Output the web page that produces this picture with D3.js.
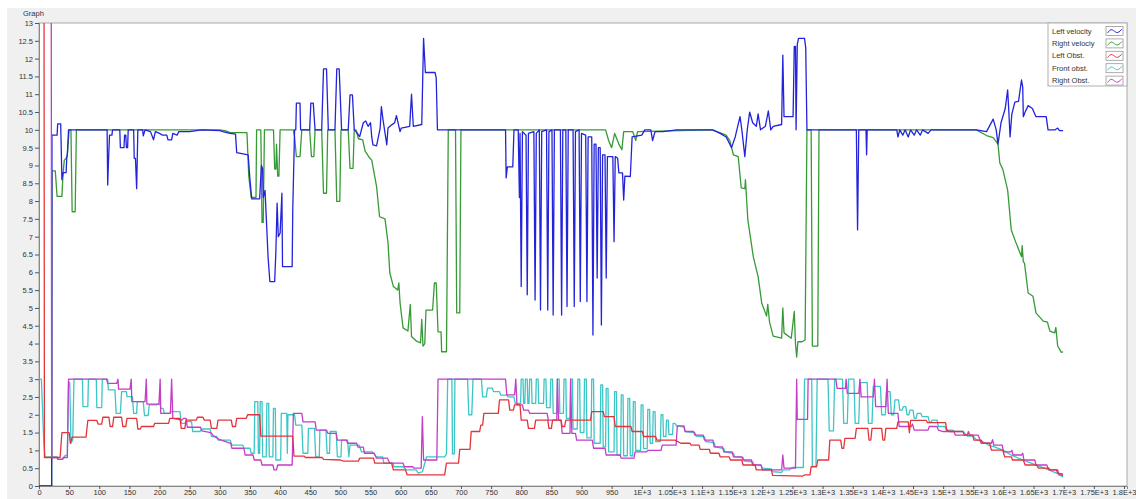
<!DOCTYPE html>
<html><head><meta charset="utf-8">
<script src="https://cdn.jsdelivr.net/npm/d3@7"></script>
<style>
html,body{margin:0;padding:0;background:#fff;}
svg{display:block;font-family:"Liberation Sans",Arial,sans-serif;}
</style></head><body>
<svg id="chart" width="1136" height="499"></svg>
<script>
// ---------------- DATA ----------------
const seriesNames = ["Left velocity","Right velociy","Left Obst.","Front obst.","Right Obst."];

const yTickValues = [0,0.5,1,1.5,2,2.5,3,3.5,4,4.5,5,5.5,6,6.5,7,7.5,8,8.5,9,9.5,10,10.5,11,11.5,12,12.5,13];
const xTickValues = [0,50,100,150,200,250,300,350,400,450,500,550,600,650,700,750,800,850,900,950,1000,1050,1100,1150,1200,1250,1300,1350,1400,1450,1500,1550,1600,1650,1700,1750,1800];
const xTickLabels = ["0","50","100","150","200","250","300","350","400","450","500","550","600","650","700","750","800","850","900","950","1E+3","1.05E+3","1.1E+3","1.15E+3","1.2E+3","1.25E+3","1.3E+3","1.35E+3","1.4E+3","1.45E+3","1.5E+3","1.55E+3","1.6E+3","1.65E+3","1.7E+3","1.75E+3","1.8E+3"];

const leftVelocity = [[0,0],[21,0],[21.5,9.85],[30,9.85],[31,10.17],[36,10.17],[38,8.6],[40,8.8],[45,8.8],[46,9.2],[47,9.3],[49,10],[113,10],[114,8.45],[115,9.0],[117,9.85],[121,9.85],[122,10],[134,10],[135,9.5],[141,9.5],[142,9.85],[144,9.85],[145,9.5],[147,9.5],[148,10],[157,10],[158,9.2],[160,9.2],[162,8.35],[164,10],[172,10],[173,9.83],[176,10],[185,9.95],[190,9.72],[193,9.95],[200,9.9],[205,9.85],[212,9.85],[214,9.72],[220,9.72],[222,9.9],[229,9.85],[232,9.95],[250,9.95],[270,10],[300,9.98],[305,9.95],[317,9.9],[326,9.88],[328,9.36],[347,9.3],[350,8.6],[353,8.06],[366,8.06],[369,9.0],[371,8.9],[372,8.1],[375,8.3],[380,6.44],[383,5.74],[391,5.74],[393,6.6],[395,7.94],[397,7.0],[400,7.1],[403,8.22],[404,6.16],[420,6.16],[421,7.75],[424,10],[426,10],[427,10.75],[433,10.75],[434,10],[449,10],[451,10.75],[455,10.75],[458,10],[469,10],[472,11.71],[477,11.71],[480,10],[491,10],[494,11.71],[498,11.71],[502,10],[513,10],[516,10.98],[520,10.98],[523,10],[526,9.95],[532,9.81],[538,10.2],[542,10.25],[546,10.1],[550,10.2],[552,9.8],[554,9.58],[560,9.55],[566,10.05],[568,10.65],[571,10.25],[577,9.58],[579,10.05],[585,10.14],[590,10.2],[593,10.4],[599,9.95],[601,10.05],[615,10.1],[618,11.0],[621,10.1],[635,10.15],[638,12.57],[641,11.61],[657,11.61],[659,11.45],[661,10],[774,10],[775,8.65],[777,8.96],[786,8.96],[788,10],[795,10],[797,8.1],[798,9.9],[800,5.6],[802,9.95],[808,9.85],[810,5.37],[812,9.9],[821,9.95],[823,5.22],[825,9.9],[830,10],[832,4.94],[834,9.95],[842,10],[844,4.94],[846,9.95],[851,10],[853,4.8],[855,10],[865,10],[867,4.8],[869,10],[874,10],[876,5.04],[878,10],[886,10],[888,5.04],[890,9.95],[896,10],[898,5.18],[900,9.9],[907,9.85],[909,5.18],[911,9.8],[917,9.8],[919,4.24],[921,9.6],[924,9.6],[926,5.84],[928,9.5],[931,9.5],[933,4.52],[935,9.3],[939,9.3],[941,5.84],[943,9.25],[952,9.25],[954,6.86],[956,9.25],[960,9.2],[962,8.79],[968,8.79],[970,8.03],[972,8.7],[981,8.69],[984,9.8],[1000,9.85],[1005,10],[1015,10],[1018,9.7],[1022,9.95],[1035,9.95],[1058,10],[1118,10],[1130,9.9],[1140,9.8],[1149,9.5],[1155,9.8],[1163,10.37],[1166,10.0],[1171,9.25],[1175,10],[1179,10.5],[1184,10.2],[1190,10.1],[1193,10.45],[1197,10.0],[1205,10.1],[1210,10.53],[1214,10.0],[1218,10.1],[1232,10.15],[1234,12.1],[1236,10.37],[1251,10.37],[1253,12.34],[1255,12.34],[1256,10],[1258,12.4],[1260,12.57],[1270,12.57],[1272,12.3],[1274,10],[1356,10],[1358,7.19],[1360,10],[1372,10],[1373,9.3],[1374,10],[1423,10],[1425,9.8],[1428,10],[1433,9.85],[1437,10],[1442,9.8],[1446,10],[1452,9.85],[1456,10],[1462,9.85],[1466,10],[1475,9.9],[1480,10],[1555,10],[1572,9.95],[1583,10.3],[1588,10.0],[1591,9.6],[1596,10.2],[1603,10.6],[1607,11.12],[1609,10.5],[1611,9.8],[1614,10.45],[1619,10.78],[1625,10.8],[1630,11.4],[1632,11.2],[1633,10.37],[1636,10.5],[1641,10.68],[1648,10.6],[1654,10.37],[1671,10.37],[1674,10.0],[1686,10.0],[1690,10.05],[1693,9.98],[1699,9.98]];

const rightVelocity = [[0,0],[21,0],[21.5,8.85],[27,8.85],[30,8.13],[38,8.13],[40,8.8],[42,9.15],[45,9.2],[47,9.3],[50,10],[53,10],[55,7.7],[60,7.7],[62,10],[300,10],[310,9.97],[317,9.92],[345,9.92],[348,8.7],[352,8.1],[360,8.1],[361,10],[368,10],[370,7.4],[372,7.4],[374,10],[389,10],[391,8.9],[393,8.9],[394,9.6],[396,8.7],[398,8.7],[400,10],[422,10],[424,9.8],[427,9.25],[433,9.25],[436,10],[449,10],[452,9.25],[456,9.25],[458,10],[469,10],[472,8.22],[477,8.22],[479,10],[491,10],[494,7.99],[499,7.99],[501,10],[513,10],[516,8.92],[521,8.92],[523,10],[526,10],[530,9.75],[537,9.72],[541,9.4],[549,9.2],[552,9.15],[560,8.41],[565,7.56],[574,7.5],[579,6.83],[582,5.98],[588,5.6],[595,5.5],[597,5.7],[599,5.14],[604,4.44],[612,4.35],[616,5.1],[618,4.2],[626,4.07],[633,4.02],[635,4.68],[637,3.93],[640,4.0],[642,4.94],[653,4.94],[656,5.7],[659,5.7],[662,4.33],[667,4.33],[668,3.77],[676,3.77],[679,10],[691,10],[693,4.86],[698,4.86],[700,10],[940,10],[945,9.7],[950,9.5],[955,9.9],[962,9.6],[967,9.44],[970,9.95],[985,9.95],[990,9.7],[993,9.95],[1115,10],[1125,9.95],[1140,9.85],[1146,9.7],[1152,9.3],[1160,9.25],[1165,8.37],[1171,8.35],[1172,8.6],[1176,7.47],[1185,6.44],[1193,5.88],[1199,5.14],[1207,4.77],[1209,5.1],[1212,4.6],[1218,4.21],[1232,4.15],[1234,5.0],[1236,4.3],[1248,4.15],[1253,4.9],[1255,4.0],[1257,3.62],[1259,4.05],[1266,4.05],[1271,4.1],[1274,10],[1281,10],[1283,3.93],[1292,3.93],[1294,10],[1555,10],[1572,9.84],[1583,9.78],[1591,9.6],[1594,9.07],[1599,8.89],[1607,8.31],[1613,7.19],[1621,6.82],[1630,6.44],[1631,6.75],[1633,6.3],[1635,6.25],[1641,5.42],[1649,5.33],[1654,4.86],[1666,4.63],[1673,4.6],[1677,4.35],[1685,4.3],[1687,4.45],[1690,3.93],[1696,3.75],[1699,3.77]];

const leftObst = [[0,20],[8,20],[9,0.8],[35,0.8],[38,1.5],[50,1.5],[52,1.2],[55,1.37],[78,1.37],[81,1.84],[96,1.84],[98,1.74],[104,1.74],[106,1.93],[116,1.93],[118,1.67],[122,1.67],[124,1.93],[137,1.93],[139,1.67],[144,1.67],[146,1.9],[162,1.9],[164,1.6],[168,1.6],[170,1.67],[190,1.67],[192,1.76],[215,1.76],[217,1.9],[234,1.9],[236,1.62],[242,1.62],[244,1.85],[261,1.85],[263,1.93],[272,1.93],[274,1.85],[284,1.85],[286,1.62],[295,1.62],[297,1.85],[319,1.85],[321,1.67],[326,1.67],[328,1.9],[344,1.9],[346,2.0],[366,2.0],[368,1.4],[421,1.4],[423,0.84],[440,0.84],[442,0.8],[470,0.8],[472,0.75],[500,0.73],[505,0.7],[530,0.7],[532,0.78],[555,0.78],[557,0.64],[585,0.64],[588,0.45],[608,0.45],[611,0.31],[673,0.31],[676,0.64],[696,0.64],[698,1.03],[715,1.03],[717,1.53],[731,1.53],[733,1.71],[736,1.71],[738,2.04],[762,2.04],[764,2.42],[779,2.42],[781,2.13],[787,2.13],[789,2.28],[798,2.28],[800,1.85],[810,1.85],[812,1.62],[822,1.62],[824,1.85],[844,1.85],[846,1.62],[850,1.62],[852,1.85],[866,1.85],[868,1.67],[872,1.67],[874,1.85],[915,1.85],[917,2.09],[936,2.09],[938,1.95],[954,1.95],[956,1.67],[982,1.67],[984,1.53],[1001,1.53],[1003,1.39],[1023,1.39],[1025,1.29],[1055,1.29],[1065,1.2],[1080,1.2],[1082,1.15],[1095,1.15],[1097,1.03],[1112,1.03],[1114,0.92],[1128,0.92],[1130,0.82],[1145,0.82],[1147,0.73],[1166,0.73],[1168,0.59],[1188,0.59],[1190,0.45],[1215,0.45],[1217,0.3],[1267,0.28],[1270,0.31],[1279,0.31],[1281,0.54],[1290,0.54],[1292,0.73],[1310,0.73],[1312,1.29],[1330,1.29],[1332,1.06],[1335,1.06],[1337,1.34],[1354,1.34],[1356,1.62],[1375,1.62],[1377,1.29],[1380,1.29],[1382,1.62],[1398,1.62],[1400,1.29],[1403,1.29],[1405,1.62],[1423,1.62],[1425,1.8],[1442,1.8],[1444,1.5],[1446,1.84],[1472,1.84],[1474,1.78],[1504,1.78],[1506,1.57],[1510,1.53],[1533,1.53],[1535,1.43],[1549,1.43],[1551,1.29],[1563,1.29],[1566,1.2],[1577,1.2],[1580,1.01],[1599,1.01],[1602,0.82],[1613,0.82],[1615,0.73],[1633,0.73],[1636,0.59],[1655,0.59],[1658,0.5],[1675,0.5],[1678,0.45],[1688,0.45],[1690,0.36],[1699,0.33]];

const frontObst = [[0,3],[4,3],[8,1.2],[10,0.82],[30,0.82],[32,0.75],[40,0.75],[43,0.85],[47,0.87],[49,2.93],[51,2.9],[53,1.2],[56,1.3],[58,3],[72,3],[73,2.23],[81,2.23],[82,3],[95,3],[96,2.2],[104,2.2],[105,3],[114,3],[115,2.7],[126,2.7],[128,2.04],[135,2.04],[137,2.65],[145,2.65],[146,2.51],[155,2.51],[157,2.04],[162,2.04],[163,2.37],[173,2.37],[175,1.98],[181,1.98],[183,2.28],[195,2.28],[196,2.3],[201,2.3],[202,2.18],[206,2.18],[208,2.04],[217,2.04],[219,2.09],[234,2.09],[236,1.76],[242,1.76],[244,1.81],[253,1.81],[255,1.53],[267,1.53],[270,1.6],[284,1.6],[286,1.39],[295,1.39],[297,1.29],[317,1.29],[320,1.15],[338,1.15],[340,1.06],[350,1.06],[352,0.92],[357,0.92],[358,2.37],[363,2.37],[364,0.92],[366,0.92],[367,2.37],[370,2.37],[371,0.82],[377,0.82],[378,2.32],[381,2.32],[382,0.82],[388,0.82],[389,2.18],[392,2.18],[393,0.73],[401,0.73],[402,2.04],[411,2.04],[412,0.92],[413,2.0],[424,2.0],[426,1.71],[436,1.71],[438,0.92],[446,0.92],[447,1.62],[457,1.62],[459,0.82],[465,0.82],[466,1.57],[476,1.57],[478,0.92],[482,0.92],[483,1.53],[493,1.53],[495,0.82],[501,0.82],[502,1.29],[512,1.29],[514,0.82],[516,1.15],[531,1.15],[535,0.96],[553,0.96],[560,0.82],[570,0.82],[572,0.64],[587,0.64],[589,0.54],[604,0.54],[610,0.45],[626,0.45],[629,0.36],[636,0.4],[643,0.82],[673,0.82],[676,0.9],[678,3],[685,3],[686,0.9],[689,0.9],[690,3],[711,3],[713,2.0],[718,2.0],[720,3],[734,3],[736,2.5],[742,2.5],[744,2.75],[752,2.75],[754,2.65],[764,2.65],[766,2.55],[776,2.55],[778,2.5],[788,2.5],[790,2.32],[799,2.32],
[800,3],[803,3],[804,2.32],[806,2.32],[807,3],[810,3],[811,2.32],[813,2.32],[814,3],[817,3],[818,2.32],[824,2.32],[825,3],[828,3],[829,2.32],[837,2.32],[838,3],[841,3],[842,2.2],[848,2.2],[849,3],[852,3],[853,2.04],[859,2.04],[860,3],[863,3],[864,2.04],[870,2.04],[871,3],[874,3],[875,1.9],[881,1.9],[882,3],[885,3],[886,1.6],[893,1.6],[894,3],[897,3],[898,1.5],[904,1.5],[905,3],[908,3],[909,1.35],[916,1.35],[917,3],[920,3],[921,1.2],[931,1.2],[932,2.84],[935,2.84],[936,1.1],[940,1.1],[941,2.74],[944,2.74],[945,0.96],[954,0.96],[955,2.65],[958,2.65],[959,0.87],[965,0.87],[966,2.56],[969,2.56],[970,0.85],[976,0.85],[977,2.46],[980,2.46],[981,0.85],[985,0.85],[986,2.37],[989,2.37],[990,1.0],[998,1.0],[999,2.28],[1002,2.28],[1003,1.05],[1009,1.05],[1010,2.15],[1013,2.15],[1014,1.2],[1018,1.2],[1019,2.09],[1022,2.09],[1023,1.25],[1031,1.25],[1032,2.0],[1035,2.0],[1036,1.39],[1040,1.39],[1041,1.85],[1044,1.85],[1045,1.45],[1051,1.45],[1052,1.76],[1055,1.76],[1058,1.69],
[1070,1.65],[1072,1.53],[1088,1.5],[1090,1.4],[1104,1.38],[1106,1.25],[1120,1.22],[1122,1.1],[1136,1.05],[1138,0.95],[1152,0.92],[1154,0.82],[1168,0.8],[1170,0.7],[1184,0.68],[1186,0.6],[1198,0.58],[1200,0.5],[1215,0.48],[1218,0.4],[1232,0.38],[1235,0.45],[1245,0.45],[1250,0.52],[1268,0.52],[1270,3],[1282,3],[1283,0.55],[1289,0.55],[1291,3],[1309,3],[1311,1.55],[1318,1.55],[1320,3],[1333,3],[1335,1.76],[1341,1.76],[1343,3],[1352,3],[1354,1.76],[1360,1.76],[1362,2.9],[1374,2.9],[1376,1.76],[1382,1.76],[1384,2.8],[1396,2.8],[1398,2.0],[1404,2.0],[1406,2.65],[1412,2.65],[1414,2.0],[1418,2.0],[1420,2.42],[1426,2.42],[1428,2.13],[1432,2.13],[1434,2.23],[1438,2.23],[1440,2.0],[1443,2.0],[1445,2.13],[1450,2.13],[1452,1.9],[1455,1.9],[1457,2.04],[1463,2.04],[1465,1.95],[1475,1.95],[1477,1.8],[1480,1.8],[1482,1.85],[1490,1.85],[1492,1.67],[1503,1.67],[1505,1.57],[1515,1.57],[1520,1.53],[1533,1.53],[1540,1.4],[1550,1.4],[1555,1.3],[1565,1.25],[1575,1.15],[1585,1.1],[1600,1.0],[1615,0.85],[1630,0.75],[1645,0.65],[1660,0.55],[1675,0.45],[1690,0.35],[1699,0.25]];

const rightObst = [[0,20],[20,20],[21,0.8],[30,0.8],[31,0.75],[38,0.75],[40,0.8],[47,0.8],[49,3],[112,3],[114,2.88],[129,2.88],[131,3],[132,2.72],[151,2.72],[153,3],[154,2.37],[176,2.37],[178,3],[179,2.3],[199,2.3],[201,3],[202,2.04],[218,2.04],[220,3],[222,1.9],[237,1.85],[240,1.9],[244,1.9],[246,1.65],[268,1.65],[270,1.55],[285,1.5],[290,1.4],[300,1.3],[318,1.2],[320,1.06],[340,1.06],[342,0.87],[355,0.87],[357,0.73],[368,0.73],[370,0.59],[388,0.59],[390,0.45],[394,0.45],[396,0.59],[420,0.59],[422,2.04],[436,2.04],[438,1.8],[458,1.8],[460,1.57],[477,1.57],[479,1.48],[493,1.48],[495,1.29],[510,1.29],[512,1.2],[527,1.2],[529,1.09],[538,1.09],[540,0.92],[556,0.92],[560,0.78],[578,0.78],[582,0.64],[604,0.64],[606,0.54],[620,0.54],[622,0.5],[634,0.5],[636,1.95],[638,0.73],[660,0.73],[662,3],[774,3],[776,2.56],[789,2.56],[791,3],[793,2.28],[802,2.28],[804,2.13],[812,2.13],[814,2.04],[843,2.04],[845,1.85],[859,1.85],[860,3],[862,1.85],[866,1.85],[868,1.48],[881,1.48],[882,3],[884,1.48],[890,1.48],[892,1.29],[918,1.29],[920,1.06],[939,1.06],[941,0.87],[964,0.87],[966,0.78],[987,0.78],[989,0.96],[1008,0.96],[1010,1.0],[1032,1.0],[1034,1.15],[1057,1.15],[1059,1.69],[1070,1.69],[1072,1.53],[1086,1.53],[1088,1.43],[1102,1.43],[1104,1.29],[1118,1.29],[1120,1.1],[1134,1.1],[1136,0.96],[1150,0.96],[1152,0.82],[1166,0.82],[1168,0.73],[1182,0.73],[1184,0.59],[1198,0.59],[1200,0.45],[1232,0.45],[1234,0.87],[1236,0.5],[1255,0.5],[1257,3],[1258,1.87],[1275,1.87],[1276,3],[1322,3],[1324,2.74],[1338,2.74],[1339,3],[1341,2.6],[1360,2.6],[1362,3],[1364,2.5],[1384,2.5],[1386,3],[1388,2.23],[1405,2.23],[1407,3],[1409,2.04],[1425,2.04],[1427,1.67],[1447,1.67],[1449,1.74],[1452,1.57],[1475,1.57],[1477,1.67],[1490,1.67],[1492,1.57],[1500,1.53],[1518,1.53],[1520,1.43],[1540,1.43],[1542,1.53],[1544,1.43],[1558,1.43],[1560,1.35],[1563,1.2],[1580,1.2],[1582,1.3],[1584,1.15],[1598,1.15],[1600,0.96],[1612,0.96],[1614,1.0],[1616,0.87],[1630,0.87],[1632,0.92],[1634,0.73],[1652,0.73],[1654,0.59],[1672,0.59],[1674,0.5],[1676,0.45],[1690,0.45],[1692,0.31],[1699,0.3]];

const seriesColors = ["#2323dc","#379a37","#e3343a","#3cc6c6","#c43cc8"];

// ---------------- CHART ----------------
const W = 1136, H = 499;
const svg = d3.select("#chart");

svg.append("rect").attr("x",7).attr("y",8).attr("width",W-7).attr("height",H-8).attr("fill","#f0f0f0");
svg.append("text").attr("x",23).attr("y",16).attr("font-size",7.5).attr("fill","#333").text("Graph");

const x = d3.scaleLinear().domain([0,1805]).range([39,1127]);
const y = d3.scaleLinear().domain([0,13]).range([486,23]);

svg.append("rect")
  .attr("x",x(0)).attr("y",y(13))
  .attr("width",x(1805)-x(0)).attr("height",y(0)-y(13))
  .attr("fill","#fff").attr("stroke","#a8a8a8").attr("stroke-width",1);

svg.append("defs").append("clipPath").attr("id","clip")
  .append("rect").attr("x",x(0)).attr("y",y(13))
  .attr("width",x(1805)-x(0)).attr("height",y(0)-y(13));

const yAxis = svg.append("g").attr("transform",`translate(${x(0)},0)`)
  .call(d3.axisLeft(y).tickValues(yTickValues).tickSize(4).tickPadding(2).tickFormat(d=>String(d)));
const xAxis = svg.append("g").attr("transform",`translate(0,${y(0)})`)
  .call(d3.axisBottom(x).tickValues(xTickValues).tickSize(3).tickPadding(1)
        .tickFormat((d,i)=>xTickLabels[i]));
[yAxis,xAxis].forEach(g=>{
  g.select(".domain").attr("stroke","#888");
  g.selectAll(".tick line").attr("stroke","#555");
  g.selectAll(".tick text").attr("fill","#333").attr("font-size",7.5)
   .attr("font-family",'"Liberation Sans",Arial,sans-serif');
});

const line = d3.line().x(d=>x(d[0])).y(d=>y(d[1]));
const gLines = svg.append("g").attr("clip-path","url(#clip)");
const drawOrder = [
  [rightVelocity,1],[leftVelocity,0],[frontObst,3],[rightObst,4],[leftObst,2]
];
drawOrder.forEach(([data,ci])=>{
  gLines.append("path").datum(data)
    .attr("d",line).attr("fill","none")
    .attr("stroke",seriesColors[ci]).attr("stroke-width",1.3)
    .attr("stroke-linejoin","round");
});

// legend
const lg = svg.append("g");
lg.append("rect").attr("x",1048).attr("y",23).attr("width",79).attr("height",63)
  .attr("fill","#fff").attr("stroke","#b0b0b0");
seriesNames.forEach((name,i)=>{
  const cy = 31 + i*12.4;
  lg.append("text").attr("x",1052).attr("y",cy+2.6).attr("font-size",7.5).attr("fill","#333").text(name);
  lg.append("rect").attr("x",1106).attr("y",cy-4.5).attr("width",17).attr("height",9)
    .attr("fill","#fff").attr("stroke","#999").attr("stroke-width",0.8);
  const icon = [[1107.5,cy+2],[1111,cy-2.5],[1114.5,cy+0.5],[1118,cy+2.5],[1122,cy-2]];
  lg.append("path").attr("d",d3.line().curve(d3.curveBasis)(icon))
    .attr("fill","none").attr("stroke",seriesColors[i]).attr("stroke-width",1);
});
</script>
</body></html>
